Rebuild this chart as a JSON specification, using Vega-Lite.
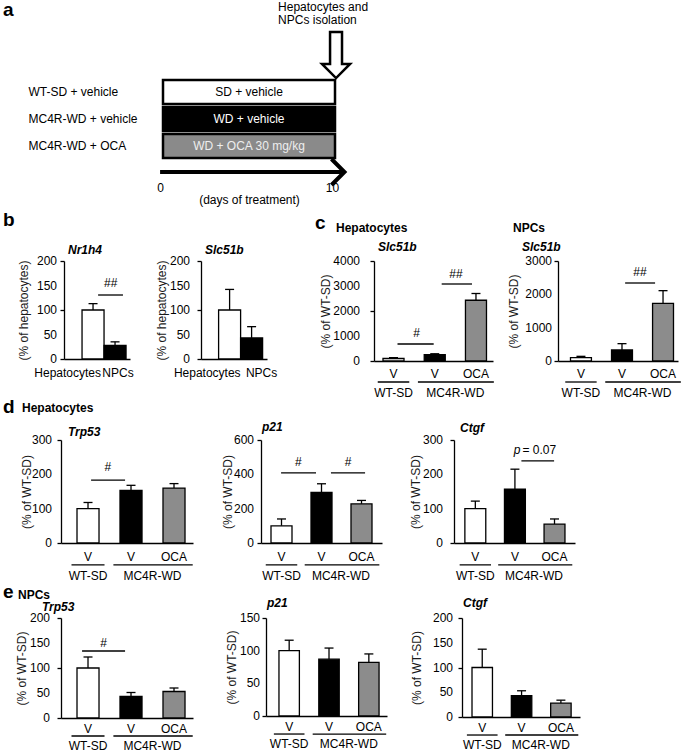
{
"$schema": "https://vega.github.io/schema/vega-lite/v6.json",
"padding": 0,
"spacing": 0,
"config": {
 "font": "Liberation Sans",
 "view": {"stroke": null},
 "axis": {"labelFont": "Liberation Sans", "titleFont": "Liberation Sans", "labelFontSize": 12, "titleFontSize": 12, "titleFontWeight": "normal", "labelColor": "black", "titleColor": "#1a1a1a", "domainColor": "black", "tickColor": "black", "grid": false, "domainWidth": 1.3, "tickWidth": 1.3, "labelFlush": false, "labelOverlap": false, "labelBound": false},
 "text": {"font": "Liberation Sans", "fontSize": 12, "color": "black"}
},
"datasets": {
 "bars": [
  {"panel":"b1","cond":"Hepatocytes","mean":100,"upper":113},
  {"panel":"b1","cond":"NPCs","mean":28,"upper":35},
  {"panel":"b2","cond":"Hepatocytes","mean":100,"upper":142},
  {"panel":"b2","cond":"NPCs","mean":43,"upper":66},
  {"panel":"c1","cond":"WT-SD V","mean":100,"upper":135},
  {"panel":"c1","cond":"MC4R-WD V","mean":250,"upper":290},
  {"panel":"c1","cond":"MC4R-WD OCA","mean":2430,"upper":2700},
  {"panel":"c2","cond":"WT-SD V","mean":100,"upper":140},
  {"panel":"c2","cond":"MC4R-WD V","mean":330,"upper":520},
  {"panel":"c2","cond":"MC4R-WD OCA","mean":1730,"upper":2110},
  {"panel":"d1","cond":"WT-SD V","mean":100,"upper":118},
  {"panel":"d1","cond":"MC4R-WD V","mean":153,"upper":168},
  {"panel":"d1","cond":"MC4R-WD OCA","mean":160,"upper":173},
  {"panel":"d2","cond":"WT-SD V","mean":100,"upper":140},
  {"panel":"d2","cond":"MC4R-WD V","mean":295,"upper":345},
  {"panel":"d2","cond":"MC4R-WD OCA","mean":228,"upper":248},
  {"panel":"d3","cond":"WT-SD V","mean":100,"upper":122},
  {"panel":"d3","cond":"MC4R-WD V","mean":157,"upper":215},
  {"panel":"d3","cond":"MC4R-WD OCA","mean":55,"upper":70},
  {"panel":"e1","cond":"WT-SD V","mean":100,"upper":122},
  {"panel":"e1","cond":"MC4R-WD V","mean":43,"upper":51},
  {"panel":"e1","cond":"MC4R-WD OCA","mean":53,"upper":60},
  {"panel":"e2","cond":"WT-SD V","mean":100,"upper":116},
  {"panel":"e2","cond":"MC4R-WD V","mean":87,"upper":104},
  {"panel":"e2","cond":"MC4R-WD OCA","mean":82,"upper":95},
  {"panel":"e3","cond":"WT-SD V","mean":100,"upper":137},
  {"panel":"e3","cond":"MC4R-WD V","mean":43,"upper":53},
  {"panel":"e3","cond":"MC4R-WD OCA","mean":28,"upper":34}
 ],
 "yticks": [
  {"panel":"b1","value":0},{"panel":"b1","value":50},{"panel":"b1","value":100},{"panel":"b1","value":150},{"panel":"b1","value":200},
  {"panel":"b2","value":0},{"panel":"b2","value":50},{"panel":"b2","value":100},{"panel":"b2","value":150},{"panel":"b2","value":200},
  {"panel":"c1","value":0},{"panel":"c1","value":1000},{"panel":"c1","value":2000},{"panel":"c1","value":3000},{"panel":"c1","value":4000},
  {"panel":"c2","value":0},{"panel":"c2","value":1000},{"panel":"c2","value":2000},{"panel":"c2","value":3000},
  {"panel":"d1","value":0},{"panel":"d1","value":100},{"panel":"d1","value":200},{"panel":"d1","value":300},
  {"panel":"d2","value":0},{"panel":"d2","value":200},{"panel":"d2","value":400},{"panel":"d2","value":600},
  {"panel":"d3","value":0},{"panel":"d3","value":100},{"panel":"d3","value":200},{"panel":"d3","value":300},
  {"panel":"e1","value":0},{"panel":"e1","value":50},{"panel":"e1","value":100},{"panel":"e1","value":150},{"panel":"e1","value":200},
  {"panel":"e2","value":0},{"panel":"e2","value":50},{"panel":"e2","value":100},{"panel":"e2","value":150},
  {"panel":"e3","value":0},{"panel":"e3","value":50},{"panel":"e3","value":100},{"panel":"e3","value":150},{"panel":"e3","value":200}
 ],
 "groups": [
  {"group":"WT-SD + vehicle","treatment":"SD + vehicle","start":0,"end":10},
  {"group":"MC4R-WD + vehicle","treatment":"WD + vehicle","start":0,"end":10},
  {"group":"MC4R-WD + OCA","treatment":"WD + OCA 30 mg/kg","start":0,"end":10}
 ]
},
"vconcat": [
 {"hconcat": [
  {"width": 163, "height": 78, "data": {"values": [{}]},
   "layer": [
    {"mark": {"type": "rule", "strokeOpacity": 0},
     "encoding": {"x": {"datum": 0, "type": "quantitative", "scale": {"domain": [0, 163], "nice": false, "zero": false}, "axis": null},
      "y": {"datum": -80, "type": "quantitative", "scale": {"domain": [0, 78], "nice": false, "zero": false, "reverse": true}, "axis": null},
      "y2": {"datum": 129}}},
    {"mark": {"type": "text", "fontSize": 19, "fontWeight": "bold", "align": "left", "baseline": "middle"},
     "encoding": {"x": {"datum": 3, "type": "quantitative", "axis": null}, "y": {"datum": -70, "type": "quantitative", "axis": null}, "text": {"value": "a"}}}
   ]},
  {"width": 172, "height": 78,
   "layer": [
    {"data": {"name": "groups"}, "mark": {"type": "bar", "stroke": "black", "strokeWidth": 2.5},
     "encoding": {
      "x": {"field": "start", "type": "quantitative", "scale": {"domain": [0, 10], "nice": false, "zero": false}, "axis": {"values": [0, 10], "ticks": false, "domain": false, "labelPadding": 24, "labelOffset": -3, "labelOverlap": false, "title": "(days of treatment)", "titlePadding": 1, "titleColor": "black"}},
      "x2": {"field": "end"},
      "y": {"field": "group", "type": "nominal", "sort": null, "scale": {"type": "band", "domain": ["WT-SD + vehicle", "MC4R-WD + vehicle", "MC4R-WD + OCA"], "paddingInner": 0.11, "paddingOuter": 0}, "axis": {"title": null, "ticks": false, "tickSize": 0, "domain": false, "labelAlign": "left", "labelPadding": 135}},
      "fill": {"condition": [{"test": "datum.group === 'MC4R-WD + vehicle'", "value": "black"}, {"test": "datum.group === 'MC4R-WD + OCA'", "value": "#8a8a8a"}], "value": "white"}}},
    {"data": {"name": "groups"}, "mark": {"type": "text", "baseline": "middle"},
     "encoding": {"x": {"datum": 5, "type": "quantitative"}, "y": {"field": "group", "type": "nominal", "sort": null}, "text": {"field": "treatment"},
      "color": {"condition": [{"test": "datum.group === 'WT-SD + vehicle'", "value": "black"}, {"test": "datum.group === 'MC4R-WD + OCA'", "value": "#eeeeee"}], "value": "white"}}},
    {"data": {"values": [{}]}, "mark": {"type": "rule", "strokeWidth": 4, "color": "black"},
     "encoding": {"x": {"datum": -0.17, "type": "quantitative"}, "x2": {"datum": 10.5}, "y": {"datum": "MC4R-WD + OCA", "type": "nominal", "bandPosition": 1.583}}},
    {"data": {"values": [{}]}, "mark": {"type": "point", "shape": "M-1,-1L0,0L-1,1", "size": 676, "filled": false, "strokeWidth": 4, "color": "black", "opacity": 1},
     "encoding": {"x": {"datum": 10.55, "type": "quantitative"}, "y": {"datum": "MC4R-WD + OCA", "type": "nominal", "bandPosition": 1.583}}},
    {"data": {"values": [{}]}, "mark": {"type": "point", "shape": "M-0.26,-1L0.26,-1L0.26,0.39L0.61,0.39L0,1L-0.61,0.39L-0.26,0.39Z", "size": 2116, "filled": true, "fill": "white", "stroke": "black", "strokeWidth": 2.5, "opacity": 1},
     "encoding": {"x": {"datum": 10.06, "type": "quantitative"}, "y": {"datum": "WT-SD + vehicle", "type": "nominal", "bandPosition": -1.04}}},
    {"data": {"values": [{}]}, "mark": {"type": "text", "align": "left", "baseline": "middle"},
     "encoding": {"x": {"datum": 6.69, "type": "quantitative"}, "y": {"datum": "WT-SD + vehicle", "type": "nominal", "bandPosition": -3.04}, "text": {"value": "Hepatocytes and"}}},
    {"data": {"values": [{}]}, "mark": {"type": "text", "align": "left", "baseline": "middle"},
     "encoding": {"x": {"datum": 6.69, "type": "quantitative"}, "y": {"datum": "WT-SD + vehicle", "type": "nominal", "bandPosition": -2.5}, "text": {"value": "NPCs isolation"}}}
   ]}
 ], "spacing": 0, "bounds": "flush"},

 {"hconcat": [
  {"width": 64, "height": 100, "data": {"values": [{}]},
   "layer": [
    {"mark": {"type": "rule", "strokeOpacity": 0},
     "encoding": {"x": {"datum": 0, "type": "quantitative", "scale": {"domain": [0, 64], "nice": false, "zero": false}, "axis": null},
      "y": {"datum": -52, "type": "quantitative", "scale": {"domain": [0, 100], "nice": false, "zero": false, "reverse": true}, "axis": null},
      "y2": {"datum": 158}}},
    {"mark": {"type": "text", "fontSize": 19, "fontWeight": "bold", "align": "left", "baseline": "middle"},
     "encoding": {"x": {"datum": 3, "type": "quantitative", "axis": null}, "y": {"datum": -41, "type": "quantitative", "axis": null}, "text": {"value": "b"}}},
    {"mark": {"type": "text", "fontWeight": "bold", "fontStyle": "italic", "align": "left", "baseline": "middle"},
     "encoding": {"x": {"datum": 68, "type": "quantitative", "axis": null}, "y": {"datum": -11, "type": "quantitative", "axis": null}, "text": {"value": "Nr1h4"}}},
    {"mark": {"type": "text", "fontSize": 19, "fontWeight": "bold", "align": "left", "baseline": "middle"},
     "encoding": {"x": {"datum": 3, "type": "quantitative", "axis": null}, "y": {"datum": 146, "type": "quantitative", "axis": null}, "text": {"value": "d"}}},
    {"mark": {"type": "text", "fontWeight": "bold", "align": "left", "baseline": "middle"},
     "encoding": {"x": {"datum": 22, "type": "quantitative", "axis": null}, "y": {"datum": 147, "type": "quantitative", "axis": null}, "text": {"value": "Hepatocytes"}}}
   ]},
  {"width": 66, "height": 98, "data": {"name": "bars"},
   "encoding": {"x": {"field": "cond", "type": "nominal", "scale": {"type": "band", "domain": ["Hepatocytes", "NPCs"], "paddingInner": 0, "paddingOuter": 0.5, "align": 0.82},
     "axis": {"title": null, "ticks": false, "labelAngle": 0, "labelPadding": 8, "labelOverlap": false, "labelAlign": {"condition": {"test": "datum.value === 'Hepatocytes'", "value": "right"}, "value": "center"}, "labelOffset": {"condition": {"test": "datum.value === 'Hepatocytes'", "value": 8}, "value": 3}}}},
   "layer": [
    {"transform": [{"filter": "datum.panel === 'b1'"}], "mark": {"type": "rule", "color": "black", "strokeWidth": 1.3},
     "encoding": {"y": {"field": "mean", "type": "quantitative", "scale": {"domain": [0, 200], "nice": false}, "axis": {"title": "(% of hepatocytes)", "values": [0, 50, 100, 150, 200], "labels": false, "tickSize": 4, "titlePadding": 29}}, "y2": {"field": "upper"}}},
    {"transform": [{"filter": "datum.panel === 'b1'"}], "mark": {"type": "tick", "color": "black", "thickness": 1.3, "size": 9, "opacity": 1},
     "encoding": {"y": {"field": "upper", "type": "quantitative"}}},
    {"transform": [{"filter": "datum.panel === 'b1'"}], "mark": {"type": "bar", "stroke": "black", "strokeWidth": 1.3},
     "encoding": {"y": {"field": "mean", "type": "quantitative"}, "fill": {"condition": [{"test": "datum.cond === 'NPCs' || datum.cond === 'MC4R-WD V'", "value": "black"}, {"test": "datum.cond === 'MC4R-WD OCA'", "value": "#8c8c8c"}], "value": "white"}}},
    {"data": {"name": "yticks"}, "transform": [{"filter": "datum.panel === 'b1'"}], "mark": {"type": "text", "align": "right", "baseline": "middle"},
     "encoding": {"x": {"datum": "Hepatocytes", "type": "nominal", "bandPosition": -1.138}, "y": {"field": "value", "type": "quantitative"}, "text": {"field": "value", "type": "quantitative", "format": "d"}}},
    {"data": {"values": [{}]}, "mark": {"type": "rule", "color": "black", "strokeWidth": 1.3},
     "encoding": {"x": {"datum": "Hepatocytes", "type": "nominal", "bandPosition": 0.73}, "x2": {"datum": "NPCs", "bandPosition": 0.86}, "y": {"datum": 130.6, "type": "quantitative"}}},
    {"data": {"values": [{}]}, "mark": {"type": "text", "baseline": "middle"},
     "encoding": {"x": {"datum": "NPCs", "type": "nominal", "bandPosition": 0.3}, "y": {"datum": 155, "type": "quantitative"}, "text": {"value": "##"}}}
   ]},
  {"width": 71, "height": 100, "data": {"values": [{}]},
   "layer": [
    {"mark": {"type": "text", "fontWeight": "bold", "fontStyle": "italic", "align": "left", "baseline": "middle"},
     "encoding": {"x": {"datum": 75, "type": "quantitative", "scale": {"domain": [0, 71], "nice": false, "zero": false}, "axis": null}, "y": {"datum": -11, "type": "quantitative", "scale": {"domain": [0, 100], "nice": false, "zero": false, "reverse": true}, "axis": null}, "text": {"value": "Slc51b"}}}
   ]},
  {"width": 66, "height": 98, "data": {"name": "bars"},
   "encoding": {"x": {"field": "cond", "type": "nominal", "scale": {"type": "band", "domain": ["Hepatocytes", "NPCs"], "paddingInner": 0, "paddingOuter": 0.5, "align": 0.8},
     "axis": {"title": null, "ticks": false, "labelAngle": 0, "labelPadding": 8, "labelOverlap": false, "labelAlign": {"condition": {"test": "datum.value === 'Hepatocytes'", "value": "right"}, "value": "center"}, "labelOffset": {"condition": {"test": "datum.value === 'Hepatocytes'", "value": 11}, "value": 10}}}},
   "layer": [
    {"transform": [{"filter": "datum.panel === 'b2'"}], "mark": {"type": "rule", "color": "black", "strokeWidth": 1.3},
     "encoding": {"y": {"field": "mean", "type": "quantitative", "scale": {"domain": [0, 200], "nice": false}, "axis": {"title": "(% of hepatocytes)", "values": [0, 50, 100, 150, 200], "labels": false, "tickSize": 4, "titlePadding": 28}}, "y2": {"field": "upper"}}},
    {"transform": [{"filter": "datum.panel === 'b2'"}], "mark": {"type": "tick", "color": "black", "thickness": 1.3, "size": 9, "opacity": 1},
     "encoding": {"y": {"field": "upper", "type": "quantitative"}}},
    {"transform": [{"filter": "datum.panel === 'b2'"}], "mark": {"type": "bar", "stroke": "black", "strokeWidth": 1.3},
     "encoding": {"y": {"field": "mean", "type": "quantitative"}, "fill": {"condition": [{"test": "datum.cond === 'NPCs' || datum.cond === 'MC4R-WD V'", "value": "black"}, {"test": "datum.cond === 'MC4R-WD OCA'", "value": "#8c8c8c"}], "value": "white"}}},
    {"data": {"name": "yticks"}, "transform": [{"filter": "datum.panel === 'b2'"}], "mark": {"type": "text", "align": "right", "baseline": "middle"},
     "encoding": {"x": {"datum": "Hepatocytes", "type": "nominal", "bandPosition": -1.3}, "y": {"field": "value", "type": "quantitative"}, "text": {"field": "value", "type": "quantitative", "format": "d"}}}
   ]},
  {"width": 107, "height": 100, "data": {"values": [{}]},
   "layer": [
    {"mark": {"type": "text", "fontSize": 19, "fontWeight": "bold", "align": "left", "baseline": "middle"},
     "encoding": {"x": {"datum": 48, "type": "quantitative", "scale": {"domain": [0, 107], "nice": false, "zero": false}, "axis": null}, "y": {"datum": -38, "type": "quantitative", "scale": {"domain": [0, 100], "nice": false, "zero": false, "reverse": true}, "axis": null}, "text": {"value": "c"}}},
    {"mark": {"type": "text", "fontWeight": "bold", "align": "left", "baseline": "middle"},
     "encoding": {"x": {"datum": 69, "type": "quantitative", "axis": null}, "y": {"datum": -33, "type": "quantitative", "axis": null}, "text": {"value": "Hepatocytes"}}},
    {"mark": {"type": "text", "fontWeight": "bold", "fontStyle": "italic", "align": "left", "baseline": "middle"},
     "encoding": {"x": {"datum": 111, "type": "quantitative", "axis": null}, "y": {"datum": -14, "type": "quantitative", "axis": null}, "text": {"value": "Slc51b"}}}
   ]},
  {"width": 119, "height": 100, "data": {"name": "bars"},
   "encoding": {"x": {"field": "cond", "type": "nominal", "scale": {"type": "band", "domain": ["WT-SD V", "MC4R-WD V", "MC4R-WD OCA"], "paddingInner": 0.49, "paddingOuter": 0.188, "align": 0.58},
     "axis": {"title": null, "ticks": false, "labelAngle": 0, "labelPadding": 7, "labelOverlap": false, "labelExpr": "datum.value === 'MC4R-WD OCA' ? 'OCA' : 'V'"}}},
   "layer": [
    {"transform": [{"filter": "datum.panel === 'c1'"}], "mark": {"type": "rule", "color": "black", "strokeWidth": 1.3},
     "encoding": {"y": {"field": "mean", "type": "quantitative", "scale": {"domain": [0, 4000], "nice": false}, "axis": {"title": "(% of WT-SD)", "values": [0, 1000, 2000, 3000, 4000], "labels": false, "tickSize": 4, "titlePadding": 37}}, "y2": {"field": "upper"}}},
    {"transform": [{"filter": "datum.panel === 'c1'"}], "mark": {"type": "tick", "color": "black", "thickness": 1.3, "size": 9, "opacity": 1},
     "encoding": {"y": {"field": "upper", "type": "quantitative"}}},
    {"transform": [{"filter": "datum.panel === 'c1'"}], "mark": {"type": "bar", "stroke": "black", "strokeWidth": 1.3},
     "encoding": {"y": {"field": "mean", "type": "quantitative"}, "fill": {"condition": [{"test": "datum.cond === 'NPCs' || datum.cond === 'MC4R-WD V'", "value": "black"}, {"test": "datum.cond === 'MC4R-WD OCA'", "value": "#8c8c8c"}], "value": "white"}}},
    {"data": {"name": "yticks"}, "transform": [{"filter": "datum.panel === 'c1'"}], "mark": {"type": "text", "align": "right", "baseline": "middle"},
     "encoding": {"x": {"datum": "WT-SD V", "type": "nominal", "bandPosition": -1.093}, "y": {"field": "value", "type": "quantitative"}, "text": {"field": "value", "type": "quantitative", "format": "d"}}},
    {"data": {"values": [{}]}, "mark": {"type": "rule", "color": "black", "strokeWidth": 1.3},
     "encoding": {"x": {"datum": "WT-SD V", "type": "nominal", "bandPosition": -0.25}, "x2": {"datum": "WT-SD V", "bandPosition": 1.25}, "y": {"datum": -840, "type": "quantitative"}}},
    {"data": {"values": [{}]}, "mark": {"type": "rule", "color": "black", "strokeWidth": 1.3},
     "encoding": {"x": {"datum": "MC4R-WD V", "type": "nominal", "bandPosition": -0.3}, "x2": {"datum": "MC4R-WD OCA", "bandPosition": 1.35}, "y": {"datum": -840, "type": "quantitative"}}},
    {"data": {"values": [{}]}, "mark": {"type": "text", "baseline": "middle"},
     "encoding": {"x": {"datum": "WT-SD V", "type": "nominal", "bandPosition": 0.5}, "y": {"datum": -1280, "type": "quantitative"}, "text": {"value": "WT-SD"}}},
    {"data": {"values": [{}]}, "mark": {"type": "text", "baseline": "middle"},
     "encoding": {"x": {"datum": "MC4R-WD OCA", "type": "nominal", "bandPosition": -0.48}, "y": {"datum": -1280, "type": "quantitative"}, "text": {"value": "MC4R-WD"}}},
    {"data": {"values": [{}]}, "mark": {"type": "rule", "color": "black", "strokeWidth": 1.3},
     "encoding": {"x": {"datum": "WT-SD V", "type": "nominal", "bandPosition": 0.69}, "x2": {"datum": "MC4R-WD V", "bandPosition": 0.45}, "y": {"datum": 680, "type": "quantitative"}}},
    {"data": {"values": [{}]}, "mark": {"type": "text", "baseline": "middle"},
     "encoding": {"x": {"datum": "MC4R-WD V", "type": "nominal", "bandPosition": -0.36}, "y": {"datum": 1120, "type": "quantitative"}, "text": {"value": "#"}}},
    {"data": {"values": [{}]}, "mark": {"type": "rule", "color": "black", "strokeWidth": 1.3},
     "encoding": {"x": {"datum": "MC4R-WD V", "type": "nominal", "bandPosition": 0.83}, "x2": {"datum": "MC4R-WD OCA", "bandPosition": 0.31}, "y": {"datum": 3080, "type": "quantitative"}}},
    {"data": {"values": [{}]}, "mark": {"type": "text", "baseline": "middle"},
     "encoding": {"x": {"datum": "MC4R-WD OCA", "type": "nominal", "bandPosition": -0.45}, "y": {"datum": 3480, "type": "quantitative"}, "text": {"value": "##"}}}
   ]},
  {"width": 65, "height": 100, "data": {"values": [{}]},
   "layer": [
    {"mark": {"type": "text", "fontWeight": "bold", "align": "left", "baseline": "middle"},
     "encoding": {"x": {"datum": 20, "type": "quantitative", "scale": {"domain": [0, 65], "nice": false, "zero": false}, "axis": null}, "y": {"datum": -33, "type": "quantitative", "scale": {"domain": [0, 100], "nice": false, "zero": false, "reverse": true}, "axis": null}, "text": {"value": "NPCs"}}},
    {"mark": {"type": "text", "fontWeight": "bold", "fontStyle": "italic", "align": "left", "baseline": "middle"},
     "encoding": {"x": {"datum": 29, "type": "quantitative", "axis": null}, "y": {"datum": -14, "type": "quantitative", "axis": null}, "text": {"value": "Slc51b"}}}
   ]},
  {"width": 120, "height": 100, "data": {"name": "bars"},
   "encoding": {"x": {"field": "cond", "type": "nominal", "scale": {"type": "band", "domain": ["WT-SD V", "MC4R-WD V", "MC4R-WD OCA"], "paddingInner": 0.49, "paddingOuter": 0.207, "align": 0.735},
     "axis": {"title": null, "ticks": false, "labelAngle": 0, "labelPadding": 7, "labelOverlap": false, "labelExpr": "datum.value === 'MC4R-WD OCA' ? 'OCA' : 'V'"}}},
   "layer": [
    {"transform": [{"filter": "datum.panel === 'c2'"}], "mark": {"type": "rule", "color": "black", "strokeWidth": 1.3},
     "encoding": {"y": {"field": "mean", "type": "quantitative", "scale": {"domain": [0, 3000], "nice": false}, "axis": {"title": "(% of WT-SD)", "values": [0, 1000, 2000, 3000], "labels": false, "tickSize": 4, "titlePadding": 33}}, "y2": {"field": "upper"}}},
    {"transform": [{"filter": "datum.panel === 'c2'"}], "mark": {"type": "tick", "color": "black", "thickness": 1.3, "size": 9, "opacity": 1},
     "encoding": {"y": {"field": "upper", "type": "quantitative"}}},
    {"transform": [{"filter": "datum.panel === 'c2'"}], "mark": {"type": "bar", "stroke": "black", "strokeWidth": 1.3},
     "encoding": {"y": {"field": "mean", "type": "quantitative"}, "fill": {"condition": [{"test": "datum.cond === 'NPCs' || datum.cond === 'MC4R-WD V'", "value": "black"}, {"test": "datum.cond === 'MC4R-WD OCA'", "value": "#8c8c8c"}], "value": "white"}}},
    {"data": {"name": "yticks"}, "transform": [{"filter": "datum.panel === 'c2'"}], "mark": {"type": "text", "align": "right", "baseline": "middle"},
     "encoding": {"x": {"datum": "WT-SD V", "type": "nominal", "bandPosition": -0.883}, "y": {"field": "value", "type": "quantitative"}, "text": {"field": "value", "type": "quantitative", "format": "d"}}},
    {"data": {"values": [{}]}, "mark": {"type": "rule", "color": "black", "strokeWidth": 1.3},
     "encoding": {"x": {"datum": "WT-SD V", "type": "nominal", "bandPosition": -0.25}, "x2": {"datum": "WT-SD V", "bandPosition": 1.25}, "y": {"datum": -630, "type": "quantitative"}}},
    {"data": {"values": [{}]}, "mark": {"type": "rule", "color": "black", "strokeWidth": 1.3},
     "encoding": {"x": {"datum": "MC4R-WD V", "type": "nominal", "bandPosition": -0.3}, "x2": {"datum": "MC4R-WD OCA", "bandPosition": 1.35}, "y": {"datum": -630, "type": "quantitative"}}},
    {"data": {"values": [{}]}, "mark": {"type": "text", "baseline": "middle"},
     "encoding": {"x": {"datum": "WT-SD V", "type": "nominal", "bandPosition": 0.5}, "y": {"datum": -960, "type": "quantitative"}, "text": {"value": "WT-SD"}}},
    {"data": {"values": [{}]}, "mark": {"type": "text", "baseline": "middle"},
     "encoding": {"x": {"datum": "MC4R-WD OCA", "type": "nominal", "bandPosition": -0.48}, "y": {"datum": -960, "type": "quantitative"}, "text": {"value": "MC4R-WD"}}},
    {"data": {"values": [{}]}, "mark": {"type": "rule", "color": "black", "strokeWidth": 1.3},
     "encoding": {"x": {"datum": "MC4R-WD V", "type": "nominal", "bandPosition": 0.65}, "x2": {"datum": "MC4R-WD OCA", "bandPosition": 0.12}, "y": {"datum": 2340, "type": "quantitative"}}},
    {"data": {"values": [{}]}, "mark": {"type": "text", "baseline": "middle"},
     "encoding": {"x": {"datum": "MC4R-WD OCA", "type": "nominal", "bandPosition": -0.6}, "y": {"datum": 2670, "type": "quantitative"}, "text": {"value": "##"}}}
   ]}
 ], "spacing": 0, "bounds": "flush"},

 {"hconcat": [
  {"width": 61, "height": 103, "data": {"values": [{}]},
   "layer": [
    {"mark": {"type": "rule", "strokeOpacity": 0},
     "encoding": {"x": {"datum": 0, "type": "quantitative", "scale": {"domain": [0, 61], "nice": false, "zero": false}, "axis": null},
      "y": {"datum": -21, "type": "quantitative", "scale": {"domain": [0, 103], "nice": false, "zero": false, "reverse": true}, "axis": null},
      "y2": {"datum": 143}}},
    {"mark": {"type": "text", "fontWeight": "bold", "fontStyle": "italic", "align": "left", "baseline": "middle"},
     "encoding": {"x": {"datum": 68, "type": "quantitative", "axis": null}, "y": {"datum": -8, "type": "quantitative", "axis": null}, "text": {"value": "Trp53"}}}
   ]},
  {"width": 132, "height": 103, "data": {"name": "bars"},
   "encoding": {"x": {"field": "cond", "type": "nominal", "scale": {"type": "band", "domain": ["WT-SD V", "MC4R-WD V", "MC4R-WD OCA"], "paddingInner": 0.488, "paddingOuter": 0.279, "align": 0.667},
     "axis": {"title": null, "ticks": false, "labelAngle": 0, "labelPadding": 8, "labelOverlap": false, "labelExpr": "datum.value === 'MC4R-WD OCA' ? 'OCA' : 'V'"}}},
   "layer": [
    {"transform": [{"filter": "datum.panel === 'd1'"}], "mark": {"type": "rule", "color": "black", "strokeWidth": 1.3},
     "encoding": {"y": {"field": "mean", "type": "quantitative", "scale": {"domain": [0, 300], "nice": false}, "axis": {"title": "(% of WT-SD)", "values": [0, 100, 200, 300], "labels": false, "tickSize": 4, "titlePadding": 23}}, "y2": {"field": "upper"}}},
    {"transform": [{"filter": "datum.panel === 'd1'"}], "mark": {"type": "tick", "color": "black", "thickness": 1.3, "size": 9, "opacity": 1},
     "encoding": {"y": {"field": "upper", "type": "quantitative"}}},
    {"transform": [{"filter": "datum.panel === 'd1'"}], "mark": {"type": "bar", "stroke": "black", "strokeWidth": 1.3},
     "encoding": {"y": {"field": "mean", "type": "quantitative"}, "fill": {"condition": [{"test": "datum.cond === 'NPCs' || datum.cond === 'MC4R-WD V'", "value": "black"}, {"test": "datum.cond === 'MC4R-WD OCA'", "value": "#8c8c8c"}], "value": "white"}}},
    {"data": {"name": "yticks"}, "transform": [{"filter": "datum.panel === 'd1'"}], "mark": {"type": "text", "align": "right", "baseline": "middle"},
     "encoding": {"x": {"datum": "WT-SD V", "type": "nominal", "bandPosition": -1.135}, "y": {"field": "value", "type": "quantitative"}, "text": {"field": "value", "type": "quantitative", "format": "d"}}},
    {"data": {"values": [{}]}, "mark": {"type": "rule", "color": "black", "strokeWidth": 1.3},
     "encoding": {"x": {"datum": "WT-SD V", "type": "nominal", "bandPosition": -0.25}, "x2": {"datum": "WT-SD V", "bandPosition": 1.25}, "y": {"datum": -64, "type": "quantitative"}}},
    {"data": {"values": [{}]}, "mark": {"type": "rule", "color": "black", "strokeWidth": 1.3},
     "encoding": {"x": {"datum": "MC4R-WD V", "type": "nominal", "bandPosition": -0.3}, "x2": {"datum": "MC4R-WD OCA", "bandPosition": 1.35}, "y": {"datum": -64, "type": "quantitative"}}},
    {"data": {"values": [{}]}, "mark": {"type": "text", "baseline": "middle"},
     "encoding": {"x": {"datum": "WT-SD V", "type": "nominal", "bandPosition": 0.5}, "y": {"datum": -96, "type": "quantitative"}, "text": {"value": "WT-SD"}}},
    {"data": {"values": [{}]}, "mark": {"type": "text", "baseline": "middle"},
     "encoding": {"x": {"datum": "MC4R-WD OCA", "type": "nominal", "bandPosition": -0.48}, "y": {"datum": -96, "type": "quantitative"}, "text": {"value": "MC4R-WD"}}},
    {"data": {"values": [{}]}, "mark": {"type": "rule", "color": "black", "strokeWidth": 1.3},
     "encoding": {"x": {"datum": "WT-SD V", "type": "nominal", "bandPosition": 0.64}, "x2": {"datum": "MC4R-WD V", "bandPosition": 0.23}, "y": {"datum": 183, "type": "quantitative"}}},
    {"data": {"values": [{}]}, "mark": {"type": "text", "baseline": "middle"},
     "encoding": {"x": {"datum": "MC4R-WD V", "type": "nominal", "bandPosition": -0.55}, "y": {"datum": 221, "type": "quantitative"}, "text": {"value": "#"}}}
   ]},
  {"width": 68, "height": 103, "data": {"values": [{}]},
   "layer": [
    {"mark": {"type": "text", "fontWeight": "bold", "fontStyle": "italic", "align": "left", "baseline": "middle"},
     "encoding": {"x": {"datum": 69, "type": "quantitative", "scale": {"domain": [0, 68], "nice": false, "zero": false}, "axis": null}, "y": {"datum": -13, "type": "quantitative", "scale": {"domain": [0, 103], "nice": false, "zero": false, "reverse": true}, "axis": null}, "text": {"value": "p21"}}}
   ]},
  {"width": 121, "height": 103, "data": {"name": "bars"},
   "encoding": {"x": {"field": "cond", "type": "nominal", "scale": {"type": "band", "domain": ["WT-SD V", "MC4R-WD V", "MC4R-WD OCA"], "paddingInner": 0.475, "paddingOuter": 0.25, "align": 0.5},
     "axis": {"title": null, "ticks": false, "labelAngle": 0, "labelPadding": 8, "labelOverlap": false, "labelExpr": "datum.value === 'MC4R-WD OCA' ? 'OCA' : 'V'"}}},
   "layer": [
    {"transform": [{"filter": "datum.panel === 'd2'"}], "mark": {"type": "rule", "color": "black", "strokeWidth": 1.3},
     "encoding": {"y": {"field": "mean", "type": "quantitative", "scale": {"domain": [0, 600], "nice": false}, "axis": {"title": "(% of WT-SD)", "values": [0, 200, 400, 600], "labels": false, "tickSize": 4, "titlePadding": 22}}, "y2": {"field": "upper"}}},
    {"transform": [{"filter": "datum.panel === 'd2'"}], "mark": {"type": "tick", "color": "black", "thickness": 1.3, "size": 9, "opacity": 1},
     "encoding": {"y": {"field": "upper", "type": "quantitative"}}},
    {"transform": [{"filter": "datum.panel === 'd2'"}], "mark": {"type": "bar", "stroke": "black", "strokeWidth": 1.3},
     "encoding": {"y": {"field": "mean", "type": "quantitative"}, "fill": {"condition": [{"test": "datum.cond === 'NPCs' || datum.cond === 'MC4R-WD V'", "value": "black"}, {"test": "datum.cond === 'MC4R-WD OCA'", "value": "#8c8c8c"}], "value": "white"}}},
    {"data": {"name": "yticks"}, "transform": [{"filter": "datum.panel === 'd2'"}], "mark": {"type": "text", "align": "right", "baseline": "middle"},
     "encoding": {"x": {"datum": "WT-SD V", "type": "nominal", "bandPosition": -0.81}, "y": {"field": "value", "type": "quantitative"}, "text": {"field": "value", "type": "quantitative", "format": "d"}}},
    {"data": {"values": [{}]}, "mark": {"type": "rule", "color": "black", "strokeWidth": 1.3},
     "encoding": {"x": {"datum": "WT-SD V", "type": "nominal", "bandPosition": -0.25}, "x2": {"datum": "WT-SD V", "bandPosition": 1.25}, "y": {"datum": -128, "type": "quantitative"}}},
    {"data": {"values": [{}]}, "mark": {"type": "rule", "color": "black", "strokeWidth": 1.3},
     "encoding": {"x": {"datum": "MC4R-WD V", "type": "nominal", "bandPosition": -0.3}, "x2": {"datum": "MC4R-WD OCA", "bandPosition": 1.35}, "y": {"datum": -128, "type": "quantitative"}}},
    {"data": {"values": [{}]}, "mark": {"type": "text", "baseline": "middle"},
     "encoding": {"x": {"datum": "WT-SD V", "type": "nominal", "bandPosition": 0.5}, "y": {"datum": -192, "type": "quantitative"}, "text": {"value": "WT-SD"}}},
    {"data": {"values": [{}]}, "mark": {"type": "text", "baseline": "middle"},
     "encoding": {"x": {"datum": "MC4R-WD OCA", "type": "nominal", "bandPosition": -0.48}, "y": {"datum": -192, "type": "quantitative"}, "text": {"value": "MC4R-WD"}}},
    {"data": {"values": [{}]}, "mark": {"type": "rule", "color": "black", "strokeWidth": 1.3},
     "encoding": {"x": {"datum": "WT-SD V", "type": "nominal", "bandPosition": 0.48}, "x2": {"datum": "MC4R-WD V", "bandPosition": 0.24}, "y": {"datum": 408, "type": "quantitative"}}},
    {"data": {"values": [{}]}, "mark": {"type": "text", "baseline": "middle"},
     "encoding": {"x": {"datum": "MC4R-WD V", "type": "nominal", "bandPosition": -0.6}, "y": {"datum": 472, "type": "quantitative"}, "text": {"value": "#"}}},
    {"data": {"values": [{}]}, "mark": {"type": "rule", "color": "black", "strokeWidth": 1.3},
     "encoding": {"x": {"datum": "MC4R-WD V", "type": "nominal", "bandPosition": 0.95}, "x2": {"datum": "MC4R-WD OCA", "bandPosition": 0.67}, "y": {"datum": 408, "type": "quantitative"}}},
    {"data": {"values": [{}]}, "mark": {"type": "text", "baseline": "middle"},
     "encoding": {"x": {"datum": "MC4R-WD OCA", "type": "nominal", "bandPosition": -0.14}, "y": {"datum": 472, "type": "quantitative"}, "text": {"value": "#"}}}
   ]},
  {"width": 72, "height": 103, "data": {"values": [{}]},
   "layer": [
    {"mark": {"type": "text", "fontWeight": "bold", "fontStyle": "italic", "align": "left", "baseline": "middle"},
     "encoding": {"x": {"datum": 78, "type": "quantitative", "scale": {"domain": [0, 72], "nice": false, "zero": false}, "axis": null}, "y": {"datum": -12, "type": "quantitative", "scale": {"domain": [0, 103], "nice": false, "zero": false, "reverse": true}, "axis": null}, "text": {"value": "Ctgf"}}}
   ]},
  {"width": 121, "height": 103, "data": {"name": "bars"},
   "encoding": {"x": {"field": "cond", "type": "nominal", "scale": {"type": "band", "domain": ["WT-SD V", "MC4R-WD V", "MC4R-WD OCA"], "paddingInner": 0.472, "paddingOuter": 0.264, "align": 0.52},
     "axis": {"title": null, "ticks": false, "labelAngle": 0, "labelPadding": 8, "labelOverlap": false, "labelExpr": "datum.value === 'MC4R-WD OCA' ? 'OCA' : 'V'"}}},
   "layer": [
    {"transform": [{"filter": "datum.panel === 'd3'"}], "mark": {"type": "rule", "color": "black", "strokeWidth": 1.3},
     "encoding": {"y": {"field": "mean", "type": "quantitative", "scale": {"domain": [0, 300], "nice": false}, "axis": {"title": "(% of WT-SD)", "values": [0, 100, 200, 300], "labels": false, "tickSize": 4, "titlePadding": 27}}, "y2": {"field": "upper"}}},
    {"transform": [{"filter": "datum.panel === 'd3'"}], "mark": {"type": "tick", "color": "black", "thickness": 1.3, "size": 9, "opacity": 1},
     "encoding": {"y": {"field": "upper", "type": "quantitative"}}},
    {"transform": [{"filter": "datum.panel === 'd3'"}], "mark": {"type": "bar", "stroke": "black", "strokeWidth": 1.3},
     "encoding": {"y": {"field": "mean", "type": "quantitative"}, "fill": {"condition": [{"test": "datum.cond === 'NPCs' || datum.cond === 'MC4R-WD V'", "value": "black"}, {"test": "datum.cond === 'MC4R-WD OCA'", "value": "#8c8c8c"}], "value": "white"}}},
    {"data": {"name": "yticks"}, "transform": [{"filter": "datum.panel === 'd3'"}], "mark": {"type": "text", "align": "right", "baseline": "middle"},
     "encoding": {"x": {"datum": "WT-SD V", "type": "nominal", "bandPosition": -1.046}, "y": {"field": "value", "type": "quantitative"}, "text": {"field": "value", "type": "quantitative", "format": "d"}}},
    {"data": {"values": [{}]}, "mark": {"type": "rule", "color": "black", "strokeWidth": 1.3},
     "encoding": {"x": {"datum": "WT-SD V", "type": "nominal", "bandPosition": -0.25}, "x2": {"datum": "WT-SD V", "bandPosition": 1.25}, "y": {"datum": -64, "type": "quantitative"}}},
    {"data": {"values": [{}]}, "mark": {"type": "rule", "color": "black", "strokeWidth": 1.3},
     "encoding": {"x": {"datum": "MC4R-WD V", "type": "nominal", "bandPosition": -0.3}, "x2": {"datum": "MC4R-WD OCA", "bandPosition": 1.35}, "y": {"datum": -64, "type": "quantitative"}}},
    {"data": {"values": [{}]}, "mark": {"type": "text", "baseline": "middle"},
     "encoding": {"x": {"datum": "WT-SD V", "type": "nominal", "bandPosition": 0.5}, "y": {"datum": -96, "type": "quantitative"}, "text": {"value": "WT-SD"}}},
    {"data": {"values": [{}]}, "mark": {"type": "text", "baseline": "middle"},
     "encoding": {"x": {"datum": "MC4R-WD OCA", "type": "nominal", "bandPosition": -0.48}, "y": {"datum": -96, "type": "quantitative"}, "text": {"value": "MC4R-WD"}}},
    {"data": {"values": [{}]}, "mark": {"type": "rule", "color": "black", "strokeWidth": 1.3},
     "encoding": {"x": {"datum": "MC4R-WD V", "type": "nominal", "bandPosition": 0.81}, "x2": {"datum": "MC4R-WD OCA", "bandPosition": 0.48}, "y": {"datum": 239, "type": "quantitative"}}},
    {"data": {"values": [{}]}, "mark": {"type": "text", "baseline": "middle", "fontStyle": "italic"},
     "encoding": {"x": {"datum": "MC4R-WD V", "type": "nominal", "bandPosition": 0.6}, "y": {"datum": 271, "type": "quantitative"}, "text": {"value": "p"}}},
    {"data": {"values": [{}]}, "mark": {"type": "text", "baseline": "middle", "align": "left"},
     "encoding": {"x": {"datum": "MC4R-WD V", "type": "nominal", "bandPosition": 0.86}, "y": {"datum": 271, "type": "quantitative"}, "text": {"value": "= 0.07"}}}
   ]}
 ], "spacing": 0, "bounds": "flush"},

 {"hconcat": [
  {"width": 61, "height": 100, "data": {"values": [{}]},
   "layer": [
    {"mark": {"type": "rule", "strokeOpacity": 0},
     "encoding": {"x": {"datum": 0, "type": "quantitative", "scale": {"domain": [0, 61], "nice": false, "zero": false}, "axis": null},
      "y": {"datum": -35, "type": "quantitative", "scale": {"domain": [0, 100], "nice": false, "zero": false, "reverse": true}, "axis": null},
      "y2": {"datum": 137}}},
    {"mark": {"type": "text", "fontSize": 19, "fontWeight": "bold", "align": "left", "baseline": "middle"},
     "encoding": {"x": {"datum": 3, "type": "quantitative", "axis": null}, "y": {"datum": -26, "type": "quantitative", "axis": null}, "text": {"value": "e"}}},
    {"mark": {"type": "text", "fontWeight": "bold", "align": "left", "baseline": "middle"},
     "encoding": {"x": {"datum": 18, "type": "quantitative", "axis": null}, "y": {"datum": -23, "type": "quantitative", "axis": null}, "text": {"value": "NPCs"}}},
    {"mark": {"type": "text", "fontWeight": "bold", "fontStyle": "italic", "align": "left", "baseline": "middle"},
     "encoding": {"x": {"datum": 42, "type": "quantitative", "axis": null}, "y": {"datum": -11, "type": "quantitative", "axis": null}, "text": {"value": "Trp53"}}}
   ]},
  {"width": 132, "height": 100, "data": {"name": "bars"},
   "encoding": {"x": {"field": "cond", "type": "nominal", "scale": {"type": "band", "domain": ["WT-SD V", "MC4R-WD V", "MC4R-WD OCA"], "paddingInner": 0.488, "paddingOuter": 0.279, "align": 0.667},
     "axis": {"title": null, "ticks": false, "labelAngle": 0, "labelPadding": 5, "labelOverlap": false, "labelExpr": "datum.value === 'MC4R-WD OCA' ? 'OCA' : 'V'"}}},
   "layer": [
    {"transform": [{"filter": "datum.panel === 'e1'"}], "mark": {"type": "rule", "color": "black", "strokeWidth": 1.3},
     "encoding": {"y": {"field": "mean", "type": "quantitative", "scale": {"domain": [0, 200], "nice": false}, "axis": {"title": "(% of WT-SD)", "values": [0, 50, 100, 150, 200], "labels": false, "tickSize": 4, "titlePadding": 28}}, "y2": {"field": "upper"}}},
    {"transform": [{"filter": "datum.panel === 'e1'"}], "mark": {"type": "tick", "color": "black", "thickness": 1.3, "size": 9, "opacity": 1},
     "encoding": {"y": {"field": "upper", "type": "quantitative"}}},
    {"transform": [{"filter": "datum.panel === 'e1'"}], "mark": {"type": "bar", "stroke": "black", "strokeWidth": 1.3},
     "encoding": {"y": {"field": "mean", "type": "quantitative"}, "fill": {"condition": [{"test": "datum.cond === 'NPCs' || datum.cond === 'MC4R-WD V'", "value": "black"}, {"test": "datum.cond === 'MC4R-WD OCA'", "value": "#8c8c8c"}], "value": "white"}}},
    {"data": {"name": "yticks"}, "transform": [{"filter": "datum.panel === 'e1'"}], "mark": {"type": "text", "align": "right", "baseline": "middle"},
     "encoding": {"x": {"datum": "WT-SD V", "type": "nominal", "bandPosition": -1.226}, "y": {"field": "value", "type": "quantitative"}, "text": {"field": "value", "type": "quantitative", "format": "d"}}},
    {"data": {"values": [{}]}, "mark": {"type": "rule", "color": "black", "strokeWidth": 1.3},
     "encoding": {"x": {"datum": "WT-SD V", "type": "nominal", "bandPosition": -0.25}, "x2": {"datum": "WT-SD V", "bandPosition": 1.25}, "y": {"datum": -36, "type": "quantitative"}}},
    {"data": {"values": [{}]}, "mark": {"type": "rule", "color": "black", "strokeWidth": 1.3},
     "encoding": {"x": {"datum": "MC4R-WD V", "type": "nominal", "bandPosition": -0.3}, "x2": {"datum": "MC4R-WD OCA", "bandPosition": 1.35}, "y": {"datum": -36, "type": "quantitative"}}},
    {"data": {"values": [{}]}, "mark": {"type": "text", "baseline": "middle"},
     "encoding": {"x": {"datum": "WT-SD V", "type": "nominal", "bandPosition": 0.5}, "y": {"datum": -56, "type": "quantitative"}, "text": {"value": "WT-SD"}}},
    {"data": {"values": [{}]}, "mark": {"type": "text", "baseline": "middle"},
     "encoding": {"x": {"datum": "MC4R-WD OCA", "type": "nominal", "bandPosition": -0.48}, "y": {"datum": -56, "type": "quantitative"}, "text": {"value": "MC4R-WD"}}},
    {"data": {"values": [{}]}, "mark": {"type": "rule", "color": "black", "strokeWidth": 1.3},
     "encoding": {"x": {"datum": "WT-SD V", "type": "nominal", "bandPosition": 0.23}, "x2": {"datum": "MC4R-WD V", "bandPosition": 0.23}, "y": {"datum": 134, "type": "quantitative"}}},
    {"data": {"values": [{}]}, "mark": {"type": "text", "baseline": "middle"},
     "encoding": {"x": {"datum": "MC4R-WD V", "type": "nominal", "bandPosition": -0.75}, "y": {"datum": 150, "type": "quantitative"}, "text": {"value": "#"}}}
   ]},
  {"width": 73, "height": 100, "data": {"values": [{}]},
   "layer": [
    {"mark": {"type": "text", "fontWeight": "bold", "fontStyle": "italic", "align": "left", "baseline": "middle"},
     "encoding": {"x": {"datum": 74, "type": "quantitative", "scale": {"domain": [0, 73], "nice": false, "zero": false}, "axis": null}, "y": {"datum": -15, "type": "quantitative", "scale": {"domain": [0, 100], "nice": false, "zero": false, "reverse": true}, "axis": null}, "text": {"value": "p21"}}}
   ]},
  {"width": 121, "height": 98, "data": {"name": "bars"},
   "encoding": {"x": {"field": "cond", "type": "nominal", "scale": {"type": "band", "domain": ["WT-SD V", "MC4R-WD V", "MC4R-WD OCA"], "paddingInner": 0.4875, "paddingOuter": 0.2625, "align": 0.62},
     "axis": {"title": null, "ticks": false, "labelAngle": 0, "labelPadding": 5, "labelOverlap": false, "labelExpr": "datum.value === 'MC4R-WD OCA' ? 'OCA' : 'V'"}}},
   "layer": [
    {"transform": [{"filter": "datum.panel === 'e2'"}], "mark": {"type": "rule", "color": "black", "strokeWidth": 1.3},
     "encoding": {"y": {"field": "mean", "type": "quantitative", "scale": {"domain": [0, 150], "nice": false}, "axis": {"title": "(% of WT-SD)", "values": [0, 50, 100, 150], "labels": false, "tickSize": 4, "titlePadding": 23}}, "y2": {"field": "upper"}}},
    {"transform": [{"filter": "datum.panel === 'e2'"}], "mark": {"type": "tick", "color": "black", "thickness": 1.3, "size": 9, "opacity": 1},
     "encoding": {"y": {"field": "upper", "type": "quantitative"}}},
    {"transform": [{"filter": "datum.panel === 'e2'"}], "mark": {"type": "bar", "stroke": "black", "strokeWidth": 1.3},
     "encoding": {"y": {"field": "mean", "type": "quantitative"}, "fill": {"condition": [{"test": "datum.cond === 'NPCs' || datum.cond === 'MC4R-WD V'", "value": "black"}, {"test": "datum.cond === 'MC4R-WD OCA'", "value": "#8c8c8c"}], "value": "white"}}},
    {"data": {"name": "yticks"}, "transform": [{"filter": "datum.panel === 'e2'"}], "mark": {"type": "text", "align": "right", "baseline": "middle"},
     "encoding": {"x": {"datum": "WT-SD V", "type": "nominal", "bandPosition": -0.929}, "y": {"field": "value", "type": "quantitative"}, "text": {"field": "value", "type": "quantitative", "format": "d"}}},
    {"data": {"values": [{}]}, "mark": {"type": "rule", "color": "black", "strokeWidth": 1.3},
     "encoding": {"x": {"datum": "WT-SD V", "type": "nominal", "bandPosition": -0.25}, "x2": {"datum": "WT-SD V", "bandPosition": 1.25}, "y": {"datum": -27.6, "type": "quantitative"}}},
    {"data": {"values": [{}]}, "mark": {"type": "rule", "color": "black", "strokeWidth": 1.3},
     "encoding": {"x": {"datum": "MC4R-WD V", "type": "nominal", "bandPosition": -0.3}, "x2": {"datum": "MC4R-WD OCA", "bandPosition": 1.35}, "y": {"datum": -27.6, "type": "quantitative"}}},
    {"data": {"values": [{}]}, "mark": {"type": "text", "baseline": "middle"},
     "encoding": {"x": {"datum": "WT-SD V", "type": "nominal", "bandPosition": 0.5}, "y": {"datum": -42.9, "type": "quantitative"}, "text": {"value": "WT-SD"}}},
    {"data": {"values": [{}]}, "mark": {"type": "text", "baseline": "middle"},
     "encoding": {"x": {"datum": "MC4R-WD OCA", "type": "nominal", "bandPosition": -0.48}, "y": {"datum": -42.9, "type": "quantitative"}, "text": {"value": "MC4R-WD"}}}
   ]},
  {"width": 75, "height": 100, "data": {"values": [{}]},
   "layer": [
    {"mark": {"type": "text", "fontWeight": "bold", "fontStyle": "italic", "align": "left", "baseline": "middle"},
     "encoding": {"x": {"datum": 76, "type": "quantitative", "scale": {"domain": [0, 75], "nice": false, "zero": false}, "axis": null}, "y": {"datum": -15, "type": "quantitative", "scale": {"domain": [0, 100], "nice": false, "zero": false, "reverse": true}, "axis": null}, "text": {"value": "Ctgf"}}}
   ]},
  {"width": 118, "height": 99, "data": {"name": "bars"},
   "encoding": {"x": {"field": "cond", "type": "nominal", "scale": {"type": "band", "domain": ["WT-SD V", "MC4R-WD V", "MC4R-WD OCA"], "paddingInner": 0.48, "paddingOuter": 0.24, "align": 0.53},
     "axis": {"title": null, "ticks": false, "labelAngle": 0, "labelPadding": 5, "labelOverlap": false, "labelExpr": "datum.value === 'MC4R-WD OCA' ? 'OCA' : 'V'"}}},
   "layer": [
    {"transform": [{"filter": "datum.panel === 'e3'"}], "mark": {"type": "rule", "color": "black", "strokeWidth": 1.3},
     "encoding": {"y": {"field": "mean", "type": "quantitative", "scale": {"domain": [0, 200], "nice": false}, "axis": {"title": "(% of WT-SD)", "values": [0, 50, 100, 150, 200], "labels": false, "tickSize": 4, "titlePadding": 34}}, "y2": {"field": "upper"}}},
    {"transform": [{"filter": "datum.panel === 'e3'"}], "mark": {"type": "tick", "color": "black", "thickness": 1.3, "size": 9, "opacity": 1},
     "encoding": {"y": {"field": "upper", "type": "quantitative"}}},
    {"transform": [{"filter": "datum.panel === 'e3'"}], "mark": {"type": "bar", "stroke": "black", "strokeWidth": 1.3},
     "encoding": {"y": {"field": "mean", "type": "quantitative"}, "fill": {"condition": [{"test": "datum.cond === 'NPCs' || datum.cond === 'MC4R-WD V'", "value": "black"}, {"test": "datum.cond === 'MC4R-WD OCA'", "value": "#8c8c8c"}], "value": "white"}}},
    {"data": {"name": "yticks"}, "transform": [{"filter": "datum.panel === 'e3'"}], "mark": {"type": "text", "align": "right", "baseline": "middle"},
     "encoding": {"x": {"datum": "WT-SD V", "type": "nominal", "bandPosition": -0.929}, "y": {"field": "value", "type": "quantitative"}, "text": {"field": "value", "type": "quantitative", "format": "d"}}},
    {"data": {"values": [{}]}, "mark": {"type": "rule", "color": "black", "strokeWidth": 1.3},
     "encoding": {"x": {"datum": "WT-SD V", "type": "nominal", "bandPosition": -0.25}, "x2": {"datum": "WT-SD V", "bandPosition": 1.25}, "y": {"datum": -36.4, "type": "quantitative"}}},
    {"data": {"values": [{}]}, "mark": {"type": "rule", "color": "black", "strokeWidth": 1.3},
     "encoding": {"x": {"datum": "MC4R-WD V", "type": "nominal", "bandPosition": -0.3}, "x2": {"datum": "MC4R-WD OCA", "bandPosition": 1.35}, "y": {"datum": -36.4, "type": "quantitative"}}},
    {"data": {"values": [{}]}, "mark": {"type": "text", "baseline": "middle"},
     "encoding": {"x": {"datum": "WT-SD V", "type": "nominal", "bandPosition": 0.5}, "y": {"datum": -56.6, "type": "quantitative"}, "text": {"value": "WT-SD"}}},
    {"data": {"values": [{}]}, "mark": {"type": "text", "baseline": "middle"},
     "encoding": {"x": {"datum": "MC4R-WD OCA", "type": "nominal", "bandPosition": -0.48}, "y": {"datum": -56.6, "type": "quantitative"}, "text": {"value": "MC4R-WD"}}}
   ]}
 ], "spacing": 0, "bounds": "flush"}
]
}
